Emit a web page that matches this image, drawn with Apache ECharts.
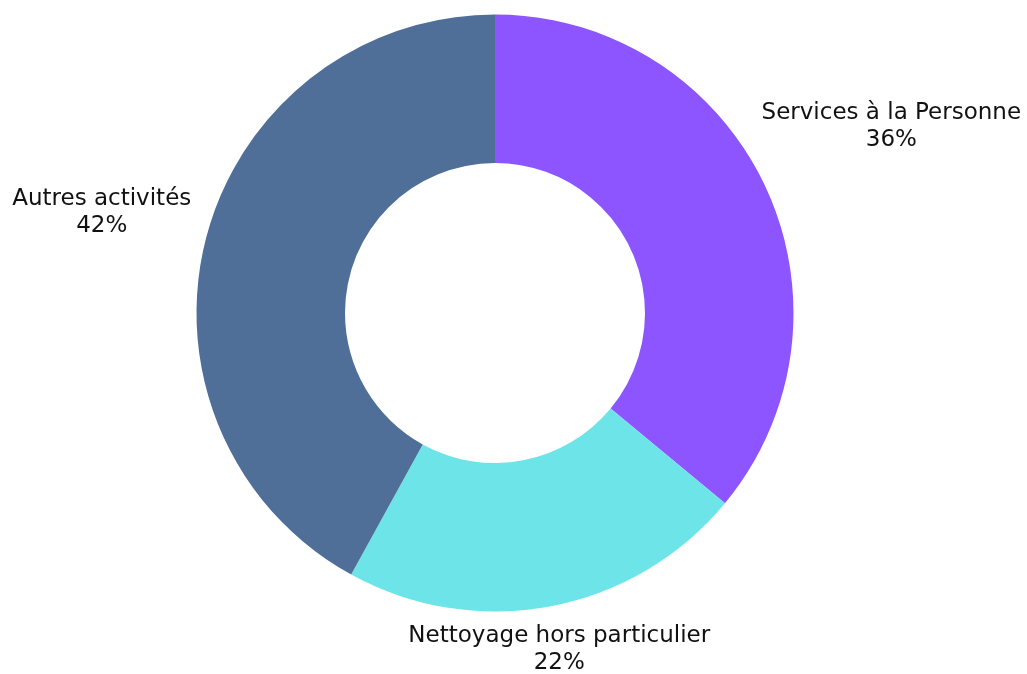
<!DOCTYPE html>
<html>
<head>
<meta charset="utf-8">
<script src="https://cdn.jsdelivr.net/npm/echarts@6/dist/echarts.min.js"></script>
<style>
  html, body { margin: 0; padding: 0; background: #fff; }
  #chart { width: 1027px; height: 674px; }
</style>
</head>
<body>
<div id="chart"></div>
<script>
const categories = ['Services à la Personne', 'Nettoyage hors particulier', 'Autres activités'];
const shares = [36, 22, 42];
const colors = ['#8c55ff', '#6ce4e8', '#4f6f99'];

// distance of each label centre from the pie centre, in px
const labelRadius = [438, 343, 406];

const cx = 495;
const cy = 313;

const total = shares.reduce((a, b) => a + b, 0);

function midAngle(idx) {
  let before = 0;
  for (let i = 0; i < idx; i++) before += shares[i];
  return (before + shares[idx] / 2) / total * Math.PI * 2;
}

const chart = echarts.init(document.getElementById('chart'));
chart.setOption({
  animation: false,
  color: colors,
  series: [{
    type: 'pie',
    center: [cx, cy],
    radius: [150, 298.5],
    startAngle: 90,
    clockwise: true,
    itemStyle: { borderWidth: 0 },
    label: {
      show: true,
      position: 'outside',
      width: 380,
      align: 'center',
      fontFamily: 'DejaVu Sans',
      fontSize: 23,
      lineHeight: 27,
      color: '#111',
      formatter: (p) => p.name + '\n' + p.value + '%'
    },
    labelLine: { show: false },
    labelLayout: (params) => {
      const a = midAngle(params.dataIndex);
      const r = labelRadius[params.dataIndex];
      return {
        x: cx + Math.sin(a) * r,
        y: cy - Math.cos(a) * r,
        align: 'center',
        verticalAlign: 'middle'
      };
    },
    emphasis: { disabled: true },
    data: categories.map((name, i) => ({ name, value: shares[i] }))
  }]
});
</script>
</body>
</html>
